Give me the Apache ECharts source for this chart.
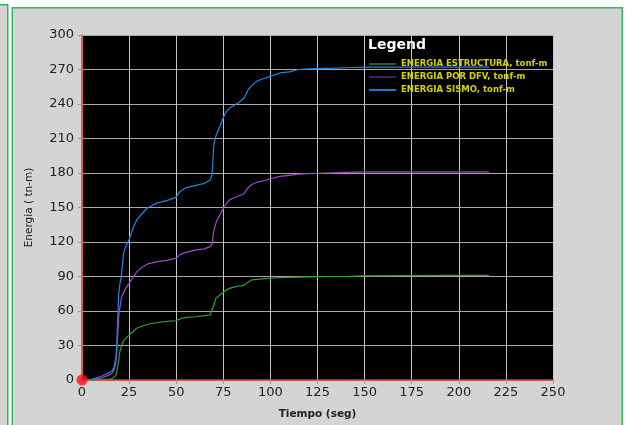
<!DOCTYPE html>
<html>
<head>
<meta charset="utf-8">
<script src="https://cdn.jsdelivr.net/npm/echarts@6/dist/echarts.min.js"></script>
<style>
  html, body { margin: 0; padding: 0; background: #ffffff; }
  #chart { width: 630px; height: 425px; }
</style>
</head>
<body>
<div id="chart"></div>
<script>
// Time samples (s) shared by all three energy histories
const tiempo = [0, 5, 10, 14, 16, 17, 18, 18.5, 19, 19.5, 20, 21, 22, 23, 25, 27, 29, 32, 35, 40, 45, 50, 52, 55, 60, 65, 68, 69, 70, 71, 72, 74, 76, 78, 80, 83, 86, 88, 90, 93, 96, 100, 105, 110, 115, 120, 130, 140, 150, 170, 190, 216];

// Energy input by the ground motion (tonf-m)
const energiaSismo = [0, 0.5, 3, 6, 8, 11, 20, 32, 55, 75, 82, 92, 110, 115, 122, 132, 139, 145, 150, 154, 156, 159, 164, 167, 169, 171, 174, 178, 205, 212, 216, 224, 232, 236, 238, 241, 245, 252, 256, 260, 262, 264, 267, 268, 270, 270.5, 271, 271.5, 272, 272, 272, 272];

// Energy dissipated by the fluid viscous dampers (tonf-m)
const energiaDFV = [0, 0.3, 1.5, 4, 6, 9, 15, 25, 40, 55, 62, 72, 76, 79, 84, 89, 94, 98, 101, 103, 104, 106, 109, 111, 113, 114, 116, 118, 130, 136, 140, 146, 152, 156, 158, 160, 162, 167, 170, 172, 173, 175, 177, 178, 179, 179.5, 180, 180.5, 181, 181, 181, 181];

// Energy taken by the structure (tonf-m)
const energiaEstructura = [0, 0, 0.3, 0.8, 1.2, 2, 4, 8, 12, 17, 24, 30, 34, 36, 39, 42, 45, 47, 48.5, 50, 51, 51.5, 53, 54.5, 55, 56, 56.5, 57.5, 65, 71, 72.5, 75, 77.5, 79.5, 80.5, 81.5, 82.5, 85, 87, 87.5, 88, 88.5, 89, 89.3, 89.5, 89.7, 90, 90, 90.5, 90.7, 91, 91];

const seriesNames = ['ENERGIA ESTRUCTURA, tonf-m', 'ENERGIA POR DFV, tonf-m', 'ENERGIA SISMO, tonf-m'];
const xTicks = { min: 0, max: 250, step: 25 };
const yTicks = { min: 0, max: 300, step: 30 };

const FONT = '"DejaVu Sans", Verdana, sans-serif';

function pairs(values) {
  return tiempo.map((t, i) => [t, values[i]]);
}

const chart = echarts.init(document.getElementById('chart'), null, { renderer: 'canvas' });

const lineColors = ['#2aa52a', '#a244c4', '#2284e0'];
const legendIconColors = ['#1d5f2a', '#43204e', '#1f74cf'];
const allValues = [energiaEstructura, energiaDFV, energiaSismo];

const series = seriesNames.map((name, i) => ({
  name: name,
  type: 'line',
  data: pairs(allValues[i]),
  showSymbol: false,
  symbol: 'none',
  smooth: false,
  lineStyle: { width: 1.2, color: lineColors[i] },
  itemStyle: { color: lineColors[i] },
  z: 3
}));

// Origin marker
series.push({
  name: 'origen',
  type: 'scatter',
  data: [[0, 0]],
  symbolSize: 11,
  itemStyle: { color: '#ff1010' },
  clip: false,
  z: 6,
  silent: true
});

chart.setOption({
  animation: false,
  backgroundColor: '#ffffff',
  graphic: [
    // left neighbour panel edge
    { type: 'rect', left: -4, top: 4, shape: { width: 11, height: 440 },
      style: { fill: '#d4d4d4', stroke: '#2fb85c', lineWidth: 1.5 }, z: -10 },
    // main panel
    { type: 'rect', left: 11.5, top: 7, shape: { width: 610, height: 440 },
      style: { fill: '#d4d4d4', stroke: '#2fb85c', lineWidth: 1.5 }, z: -10 },
    // legend heading
    { type: 'text', left: 368, top: 38, z: 10,
      style: { text: 'Legend', fill: '#ffffff', font: 'bold 14px ' + FONT } }
  ],
  grid: {
    left: 82, top: 35, right: 77, bottom: 45,
    show: true, backgroundColor: '#000000', borderWidth: 0
  },
  legend: {
    orient: 'vertical',
    left: 369,
    top: 59,
    icon: 'rect',
    itemWidth: 27,
    itemHeight: 2,
    itemGap: 3,
    padding: 0,
    data: seriesNames.map((n, i) => ({ name: n, itemStyle: { color: legendIconColors[i] } })),
    textStyle: {
      color: '#d2d200',
      fontSize: 8.5,
      fontWeight: 'bold',
      lineHeight: 10,
      fontFamily: FONT
    }
  },
  xAxis: {
    type: 'value',
    min: xTicks.min, max: xTicks.max, interval: xTicks.step,
    name: 'Tiempo (seg)',
    nameLocation: 'middle',
    nameGap: 29,
    nameTextStyle: { color: '#222', fontSize: 10.5, fontWeight: 'bold', fontFamily: FONT },
    axisLine: { show: true, onZero: false, lineStyle: { color: '#e03838', width: 1.5 } },
    axisTick: { show: true, length: 4, lineStyle: { color: '#999' } },
    axisLabel: { color: '#222', fontSize: 13, margin: 6, fontFamily: FONT },
    splitLine: { show: true, lineStyle: { color: '#c4c4c4', width: 1 } }
  },
  yAxis: {
    type: 'value',
    min: yTicks.min, max: yTicks.max, interval: yTicks.step,
    name: 'Energia ( tn-m)',
    nameLocation: 'middle',
    nameGap: 47,
    nameTextStyle: { color: '#222', fontSize: 10.5, fontFamily: FONT },
    axisLine: { show: true, onZero: false, lineStyle: { color: '#e03838', width: 1.5 } },
    axisTick: { show: true, length: 4, lineStyle: { color: '#999' } },
    axisLabel: { color: '#222', fontSize: 13, margin: 8, fontFamily: FONT },
    splitLine: { show: true, lineStyle: { color: '#a8a8a8', width: 1 } }
  },
  series: series
});
</script>
</body>
</html>
